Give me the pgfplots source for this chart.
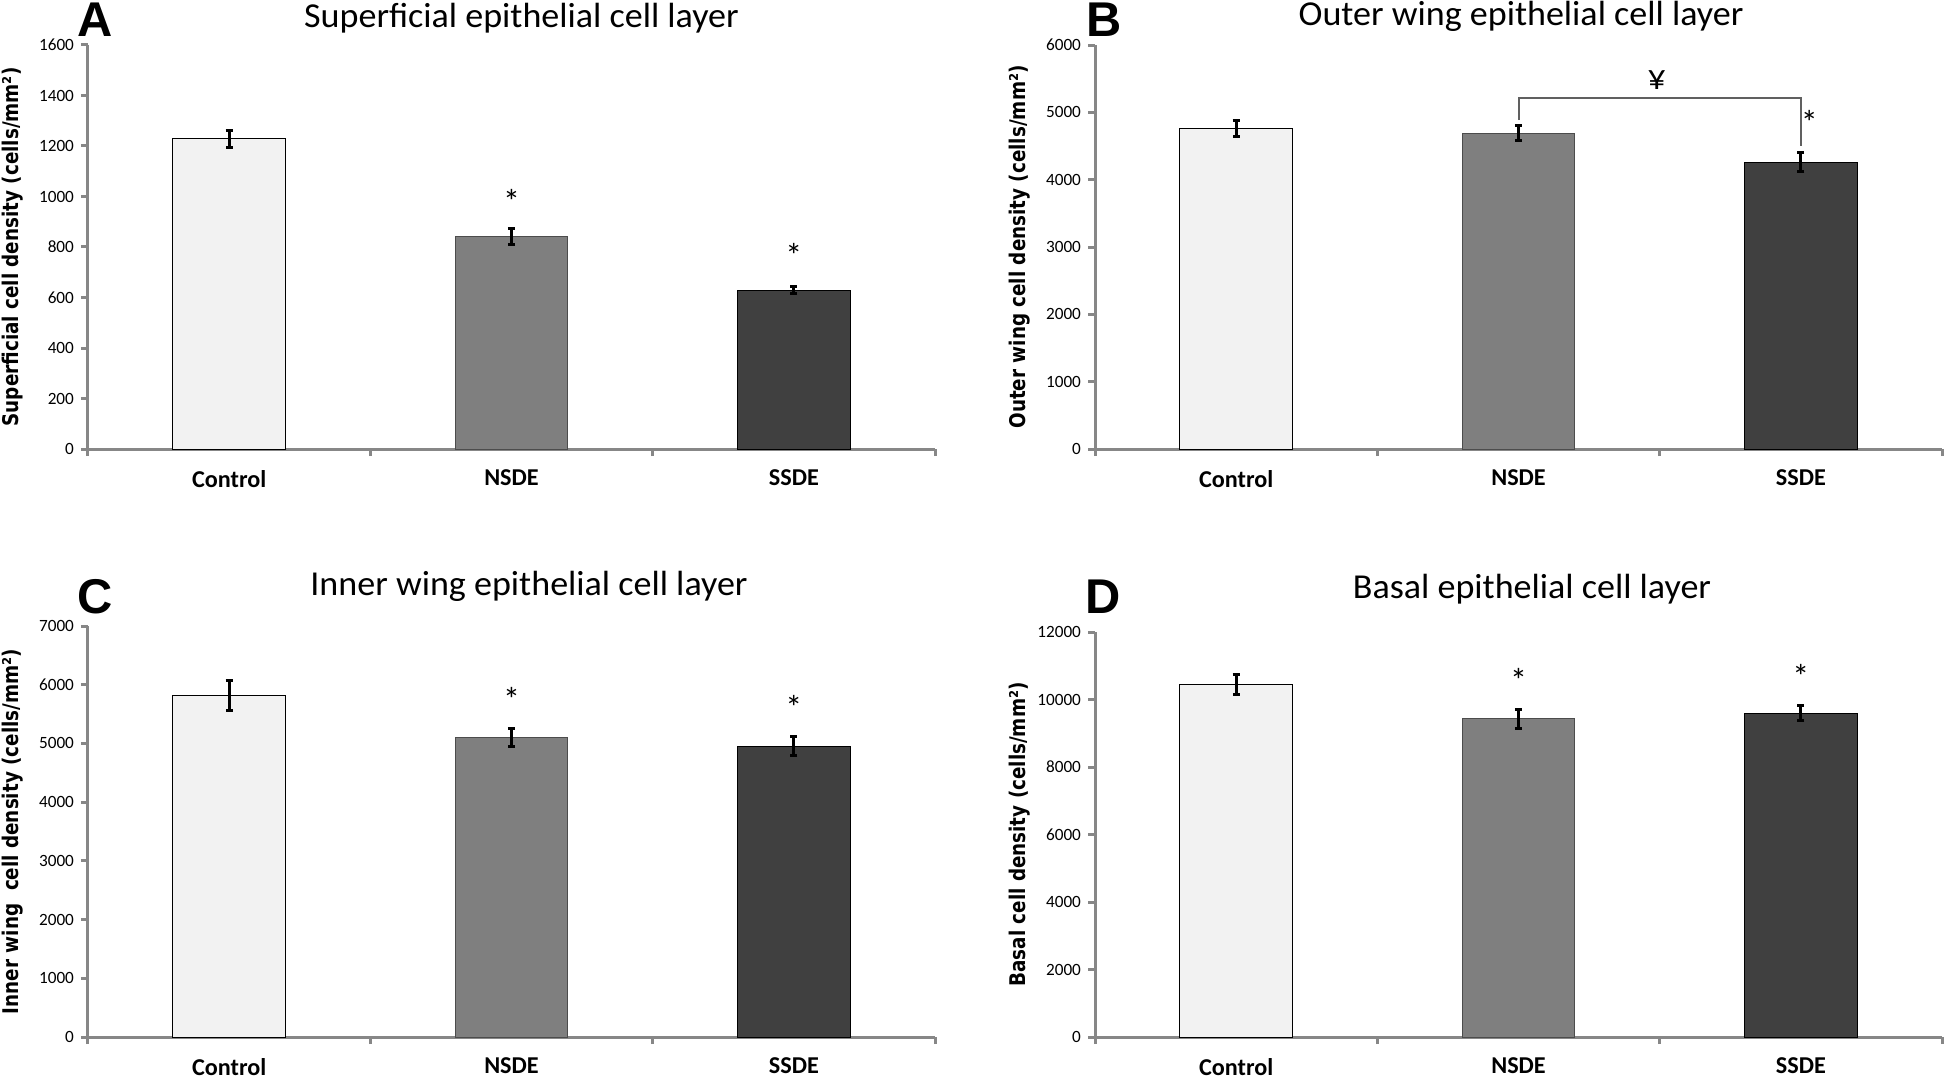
\documentclass[border=0pt]{standalone}
\usepackage{pgfplots}
\pgfplotsset{compat=1.18}
\usepackage{fontspec}
\setmainfont{Carlito}
\newfontfamily\titlefont{Carlito}[FakeStretch=1.03]
\newfontfamily\ylabfont{DejaVu Sans}[FakeStretch=0.85]
\newfontfamily\letterfont{Liberation Sans}
\definecolor{axisgray}{RGB}{135,135,135}
\definecolor{ctrlfill}{RGB}{242,242,242}
\definecolor{nsdefill}{RGB}{127,127,127}
\definecolor{ssdefill}{RGB}{64,64,64}
\definecolor{brackgray}{RGB}{96,96,96}

\pgfplotsset{
  panel/.style={
    scale only axis, width=423.5pt, anchor=south west,
    axis lines=left, axis line style={-, draw=axisgray, line width=1.5pt},
    xmin=-0.5, xmax=2.5, ymin=0,
    xtick={-0.5,0.5,1.5,2.5}, xticklabels={,,,},
    extra x ticks={0,1,2}, extra x tick labels={Control,NSDE,SSDE},
    extra x tick style={major tick length=0pt,
      tick label style={font=\fontsize{12.1}{14}\selectfont\bfseries, yshift=-7pt}},
    tick align=outside, major tick length=3.5pt,
    tick style={draw=axisgray, line width=1.5pt},
    yticklabel style={font=\fontsize{8.6}{10}\selectfont},
    /pgf/number format/assume math mode=true,
    /pgf/number format/1000 sep={},
    scaled y ticks=false,
    ylabel style={font=\ylabfont\bfseries\fontsize{10.8}{12}\selectfont,
      at={(axis description cs:-0.0885,0.5)}, anchor=center},
    ybar, bar width=0.4, bar shift=0pt,
    error bars/y dir=both, error bars/y explicit,
    error bars/error mark=-,
    error bars/error bar style={line width=1.5pt, black},
    error bars/error mark options={rotate=90, line width=1.5pt, mark size=1.8pt, black},
    clip=false,
  },
  ctrl/.style={fill=ctrlfill, draw=black, line width=0.5pt},
  nsde/.style={fill=nsdefill, draw=black!70, line width=0.5pt},
  ssde/.style={fill=ssdefill, draw=black, line width=0.5pt},
}
\tikzset{sig/.style={font=\fontsize{17}{19}\selectfont, inner sep=0pt}}

\begin{document}
\begin{tikzpicture}
\useasboundingbox (0,0) rectangle (973pt,539pt);

% A: superficial layer
\begin{axis}[panel, at={(44pt,314.5pt)}, height=202pt,
  ymax=1600, ytick={0,200,...,1600},
  ylabel={Superficial cell density (cells/mm²)}]
\addplot[ctrl] coordinates {(0,1228) +- (0,35)};
\addplot[nsde] coordinates {(1,841) +- (0,33)};
\addplot[ssde] coordinates {(2,629) +- (0,14)};
\node[sig] at (axis cs:1,979) {*};
\node[sig] at (axis cs:2,768) {*};
\end{axis}

% B: outer wing layer
\begin{axis}[panel, at={(547.5pt,314.5pt)}, height=202pt,
  ymax=6000, ytick={0,1000,...,6000},
  ylabel={Outer wing cell density (cells/mm²)}]
\addplot[ctrl] coordinates {(0,4760) +- (0,126)};
\addplot[nsde] coordinates {(1,4688) +- (0,110)};
\addplot[ssde] coordinates {(2,4259) +- (0,141)};
\draw[brackgray, line width=1pt] (axis cs:1,4886) |- (axis cs:2,5213) -- (axis cs:2,4500);
\node[font=\fontsize{18}{20}\selectfont, inner sep=0pt] at (axis cs:1.49,5480) {¥};
\node[sig] at (axis cs:2.03,4856) {*};
\end{axis}

% C: inner wing layer
\begin{axis}[panel, at={(44pt,20.5pt)}, height=205.5pt,
  ymax=7000, ytick={0,1000,...,7000},
  ylabel={Inner wing\ \ cell density (cells/mm²)}]
\addplot[ctrl] coordinates {(0,5815) +- (0,261)};
\addplot[nsde] coordinates {(1,5100) +- (0,155)};
\addplot[ssde] coordinates {(2,4955) +- (0,161)};
\node[sig] at (axis cs:1,5752) {*};
\node[sig] at (axis cs:2,5615) {*};
\end{axis}

% D: basal layer
\begin{axis}[panel, at={(547.5pt,20.5pt)}, height=202.5pt,
  ymax=12000, ytick={0,2000,...,12000},
  ylabel={Basal cell density (cells/mm²)}]
\addplot[ctrl] coordinates {(0,10455) +- (0,297)};
\addplot[nsde] coordinates {(1,9425) +- (0,276)};
\addplot[ssde] coordinates {(2,9595) +- (0,213)};
\node[sig] at (axis cs:1,10566) {*};
\node[sig] at (axis cs:2,10690) {*};
\end{axis}

% panel letters and titles
\begin{scope}[every node/.style={anchor=base west, inner sep=0pt,
    font=\letterfont\bfseries\fontsize{24.4}{28}\selectfont}]
\node at (38.5pt,520.5pt) {A};
\node at (543pt,520.5pt) {B};
\node at (38.5pt,232.5pt) {C};
\node at (542.5pt,232.5pt) {D};
\end{scope}
\begin{scope}[every node/.style={anchor=base, inner sep=0pt,
    font=\titlefont\fontsize{17.5}{19}\selectfont}]
\node at (260.75pt,525.2pt) {Superficial epithelial cell layer};
\node at (760.5pt,526pt) {Outer wing epithelial cell layer};
\node at (264.5pt,241.5pt) {Inner wing epithelial cell layer};
\node at (766pt,240pt) {Basal epithelial cell layer};
\end{scope}
\end{tikzpicture}
\end{document}
